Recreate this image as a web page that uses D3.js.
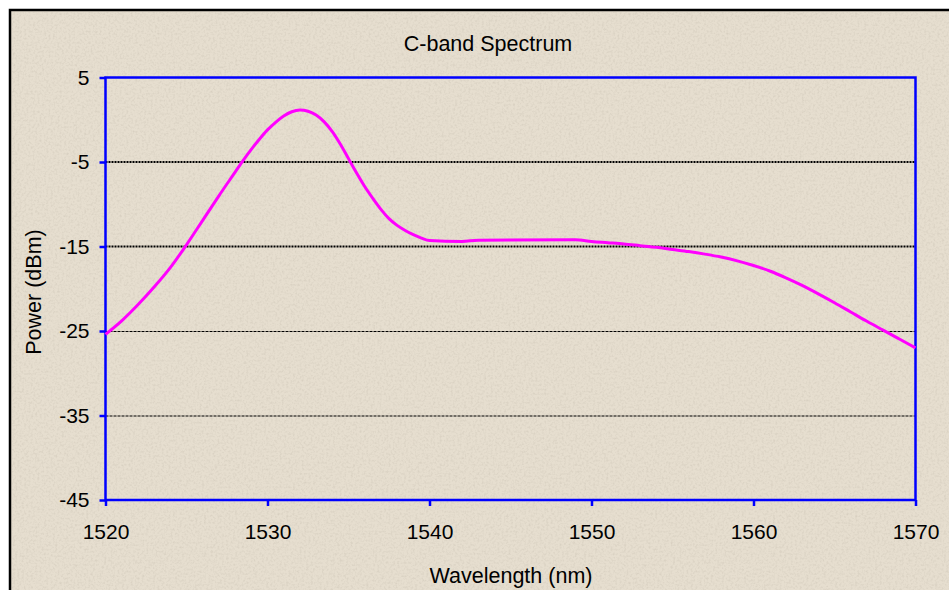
<!DOCTYPE html>
<html>
<head>
<meta charset="utf-8">
<script src="https://cdnjs.cloudflare.com/ajax/libs/d3/7.8.5/d3.min.js"></script>
<style>
  body { margin: 0; background: #fff; }
  svg { display: block; }
  text { font-family: "Liberation Sans", Arial, sans-serif; fill: #000; }
</style>
</head>
<body>
<div id="chart"></div>
<script>
// chart data
var wavelengths = [1520, 1521, 1522, 1523, 1524, 1525, 1526, 1527, 1528, 1528.5,
  1529, 1529.5, 1530, 1530.5, 1531, 1531.5, 1532, 1532.5, 1533, 1533.5,
  1534, 1534.5, 1535, 1535.5, 1536, 1536.5, 1537, 1537.5, 1538, 1538.5,
  1539, 1539.5, 1540, 1542, 1543, 1549, 1550, 1551,
  1552, 1553, 1554, 1555, 1556, 1557, 1558, 1559, 1560, 1561,
  1562, 1563, 1564, 1565, 1566, 1567, 1568, 1569, 1570];
var powers = [-25.4, -23.8, -21.9, -19.8, -17.5, -14.8, -11.9, -9.0, -6.2, -4.8,
  -3.5, -2.3, -1.2, -0.3, 0.45, 0.95, 1.15, 1.0, 0.55, -0.25,
  -1.4, -2.9, -4.6, -6.3, -7.9, -9.3, -10.6, -11.7, -12.5, -13.1,
  -13.6, -14.0, -14.3, -14.4, -14.25, -14.2, -14.4, -14.55,
  -14.7, -14.9, -15.1, -15.35, -15.6, -15.9, -16.25, -16.7, -17.25, -17.9,
  -18.7, -19.6, -20.6, -21.65, -22.75, -23.85, -24.9, -25.95, -27.0];
var xTicks = [1520, 1530, 1540, 1550, 1560, 1570];
var yTicks = [5, -5, -15, -25, -35, -45];
var boldGrid = [-5, -15];
var thinGrid = [-25, -35];

var width = 949,
    height = 590;

// plot area edges
var plotLeft = 105.5, plotRight = 915.5, plotTop = 77.5, plotBottom = 500;

var svg = d3.select("#chart").append("svg")
    .attr("width", width)
    .attr("height", height);

// speckled paper look for the background
var filter = svg.append("defs").append("filter").attr("id", "paper")
  .attr("x", 0).attr("y", 0).attr("width", 1).attr("height", 1);
filter.append("feTurbulence")
  .attr("type", "fractalNoise")
  .attr("baseFrequency", 0.45)
  .attr("numOctaves", 2)
  .attr("seed", 4);
filter.append("feColorMatrix")
  .attr("type", "matrix")
  .attr("values", "0 0 0 0 0.45  0 0 0 0 0.4  0 0 0 0 0.33  0 0 0 -2.2 1.25");

// chart area background + frame
svg.append("rect")
  .attr("x", 10).attr("y", 10)
  .attr("width", width + 20).attr("height", height + 20)
  .attr("fill", "#e6decf")
  .attr("stroke", "#000")
  .attr("stroke-width", 2.5);

svg.append("rect")
  .attr("x", 11.5).attr("y", 11.5)
  .attr("width", width).attr("height", height)
  .attr("filter", "url(#paper)")
  .attr("opacity", 0.25);

var x = d3.scaleLinear().domain([1520, 1570]).range([plotLeft, plotRight]);
var y = d3.scaleLinear().domain([-45, 5]).range([plotBottom, plotTop]);

// gridlines
svg.selectAll(".grid-b").data(boldGrid).enter().append("line")
  .attr("x1", plotLeft).attr("x2", plotRight)
  .attr("y1", function(d) { return y(d); })
  .attr("y2", function(d) { return y(d); })
  .attr("stroke", "#000")
  .attr("stroke-width", 2.2)
  .attr("stroke-dasharray", "2,1");

svg.selectAll(".grid-t").data(thinGrid).enter().append("line")
  .attr("x1", plotLeft).attr("x2", plotRight)
  .attr("y1", function(d) { return y(d) + 0.5; })
  .attr("y2", function(d) { return y(d) + 0.5; })
  .attr("stroke", "#000")
  .attr("stroke-width", 1)
  .attr("stroke-dasharray", "3,1");

// plot border
svg.append("rect")
  .attr("x", plotLeft).attr("y", plotTop)
  .attr("width", plotRight - plotLeft).attr("height", plotBottom - plotTop)
  .attr("fill", "none")
  .attr("stroke", "#0000ff")
  .attr("stroke-width", 2.5);

var xAxis = d3.axisBottom(x).tickValues(xTicks).tickSize(6).tickPadding(18)
  .tickFormat(function(d) { return String(d); });
var yAxis = d3.axisLeft(y).tickValues(yTicks).tickSize(6).tickPadding(10)
  .tickFormat(function(d) { return String(d); });

var gx = svg.append("g").attr("transform", "translate(0," + plotBottom + ")").call(xAxis);
var gy = svg.append("g").attr("transform", "translate(" + plotLeft + ",0)").call(yAxis);

[gx, gy].forEach(function(g) {
  g.select(".domain").remove();
  g.selectAll(".tick line").attr("stroke", "#0000ff").attr("stroke-width", 2.5);
  g.selectAll(".tick text")
    .style("font-family", "Liberation Sans, Arial, sans-serif")
    .style("font-size", "21px")
    .attr("fill", "#000");
});

// the spectrum
var lineFunction = d3.line()
  .x(function(d, i) { return x(wavelengths[i]); })
  .y(function(d) { return y(d); })
  .curve(d3.curveMonotoneX);

svg.append("path")
  .attr("d", lineFunction(powers))
  .attr("stroke", "#ff00ff")
  .attr("stroke-width", 3)
  .attr("fill", "none");

// titles
svg.append("text")
  .attr("x", 488).attr("y", 51)
  .attr("text-anchor", "middle")
  .style("font-size", "21.5px")
  .text("C-band Spectrum");

svg.append("text")
  .attr("x", 511).attr("y", 583)
  .attr("text-anchor", "middle")
  .style("font-size", "21.5px")
  .text("Wavelength (nm)");

svg.append("text")
  .attr("transform", "translate(41,292) rotate(-90)")
  .attr("text-anchor", "middle")
  .style("font-size", "21.5px")
  .text("Power (dBm)");
</script>
</body>
</html>
